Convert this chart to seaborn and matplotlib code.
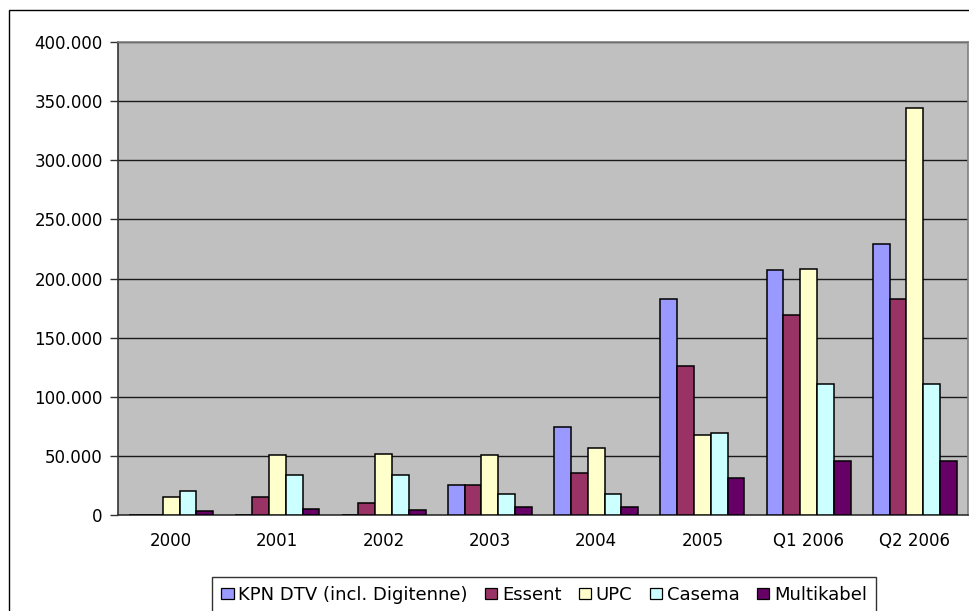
import matplotlib
matplotlib.use("Agg")
import matplotlib.pyplot as plt
from matplotlib.ticker import FuncFormatter, FixedLocator
from matplotlib.patches import Rectangle
import seaborn as sns
import pandas as pd

# Digital TV subscribers per provider
periods = ["2000", "2001", "2002", "2003", "2004", "2005", "Q1 2006", "Q2 2006"]
providers = ["KPN DTV (incl. Digitenne)", "Essent", "UPC", "Casema", "Multikabel"]

kpn = [0, 0, 0, 25000, 74500, 183000, 207000, 229500]
essent = [0, 15000, 10000, 25000, 35500, 126000, 169000, 183000]
upc = [15000, 50500, 52000, 50500, 56500, 68000, 208000, 344500]
casema = [20500, 34000, 34000, 17500, 17500, 69500, 111000, 111000]
multikabel = [3000, 5000, 4000, 6500, 6500, 31500, 45500, 45500]

colors = ["#9999FF", "#993366", "#FFFFCC", "#CCFFFF", "#660066"]

series = [kpn, essent, upc, casema, multikabel]
df = pd.DataFrame(
    [(p, prov, v) for prov, vals in zip(providers, series) for p, v in zip(periods, vals)],
    columns=["period", "provider", "subscribers"],
)

sns.set_theme(style="white")
plt.rcParams["font.family"] = ["DejaVu Sans"]
plt.rcParams["text.color"] = "black"
plt.rcParams["xtick.color"] = "black"
plt.rcParams["ytick.color"] = "black"

fig = plt.figure(figsize=(9.7, 6.11), dpi=100)
ax = fig.add_axes([118 / 970, 1 - 515 / 611, 850 / 970, 473 / 611])
ax.set_facecolor("#C0C0C0")

sns.barplot(
    data=df, x="period", y="subscribers", hue="provider",
    order=periods, hue_order=providers, palette=colors,
    width=0.79, edgecolor="black", linewidth=1.1, saturation=1,
    ax=ax, legend=False, zorder=3,
)

ax.set_xlim(-0.5, len(periods) - 0.5)
ax.set_ylim(0, 400000)
ax.set_yticks(range(0, 400001, 50000))
ax.yaxis.set_major_formatter(
    FuncFormatter(lambda v, _: "0" if v == 0 else f"{int(v):,}".replace(",", "."))
)
ax.yaxis.grid(True, color="#1a1a1a", linewidth=1.0, zorder=1)
ax.set_axisbelow(True)
ax.set_xlabel("")
ax.set_ylabel("")

# category labels centred, tick marks on the category boundaries
ax.tick_params(axis="x", which="major", length=0, pad=12, labelsize=12, labelcolor="black")
ax.xaxis.set_minor_locator(FixedLocator([i - 0.5 for i in range(len(periods) + 1)]))
ax.tick_params(axis="x", which="minor", length=5, width=1, color="#333333", direction="out")
ax.tick_params(axis="y", length=6, width=1, color="#333333", direction="out",
               labelsize=12, labelcolor="black", pad=5, left=True)

for side in ("top", "right"):
    ax.spines[side].set_color("#808080")
    ax.spines[side].set_linewidth(1.2)
for side in ("left", "bottom"):
    ax.spines[side].set_color("#333333")
    ax.spines[side].set_linewidth(1.2)

handles = [Rectangle((0, 0), 1, 1, facecolor=c, edgecolor="black", linewidth=0.9) for c in colors]
leg = fig.legend(
    handles, providers, loc="upper left", bbox_to_anchor=(212 / 970, 1 - 577 / 611),
    ncol=5, frameon=True, fancybox=False, fontsize=13, labelcolor="black",
    handlelength=0.7, handleheight=0.55, handletextpad=0.25, columnspacing=0.95,
    borderpad=0.5, borderaxespad=0,
)
leg.get_frame().set_edgecolor("black")
leg.get_frame().set_linewidth(1.0)

# chart border
fig.add_artist(Rectangle((9.5 / 970, -0.2), 1.2, 1.2 - 10 / 611, transform=fig.transFigure,
                         fill=False, edgecolor="black", linewidth=1.0))

fig.savefig("out.png", dpi=100, facecolor="white")
